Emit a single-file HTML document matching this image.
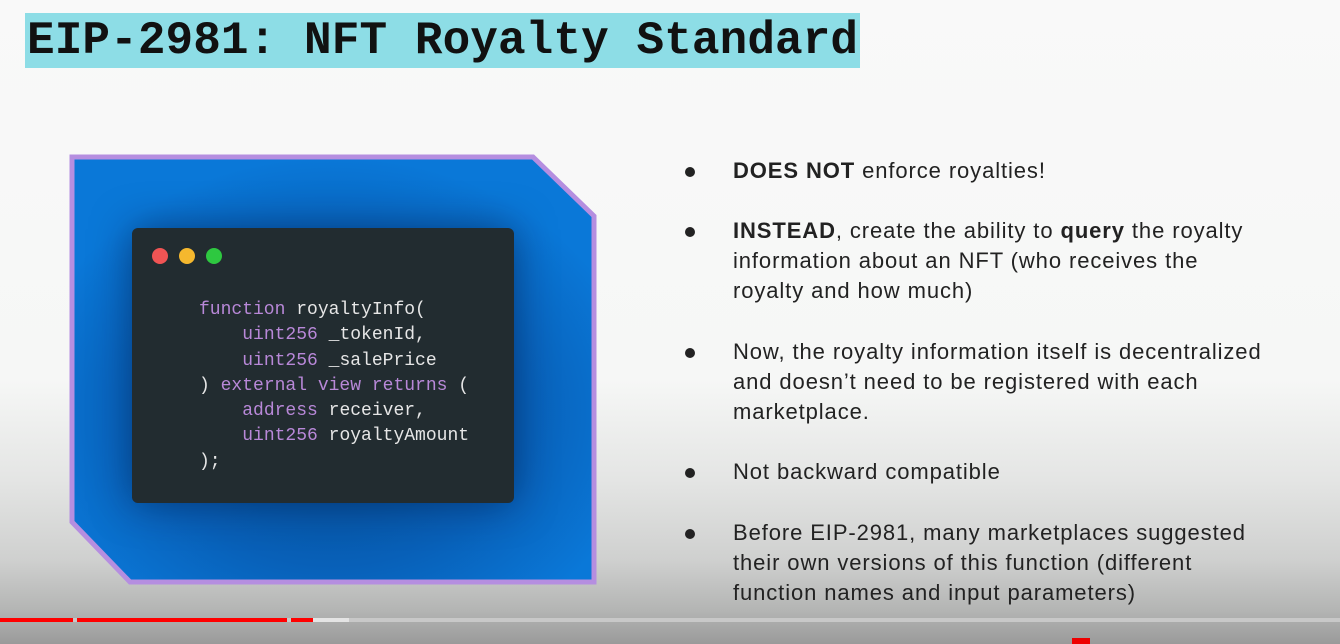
<!DOCTYPE html>
<html><head><meta charset="utf-8"><style>
html,body{margin:0;padding:0}
body{width:1340px;height:644px;position:relative;overflow:hidden;font-family:"Liberation Sans",sans-serif;
background:linear-gradient(to bottom,#f9f9f9 0px,#f6f7f6 380px,#e4e5e4 480px,#cfd0cf 560px,#b4b5b4 610px,#9a9a9a 644px);}
.title{position:absolute;left:25px;top:13px;width:835px;height:55px;background:#8ddde6;}
.title span{position:absolute;left:2px;top:2px;font-family:"Liberation Mono",monospace;font-weight:bold;font-size:46px;line-height:52px;color:#111;letter-spacing:0.1px}
.code{position:absolute;left:132px;top:228px;width:382px;height:275px;background:#222c30;border-radius:6px;box-shadow:0 0 40px rgba(0,20,60,0.5)}
.dot{position:absolute;top:248px;width:16px;height:16px;border-radius:50%}
pre{position:absolute;left:199px;top:298px;margin:0;font-family:"Liberation Mono",monospace;font-size:18px;line-height:25.3px;color:#e6e6e6}
.k{color:#b888d8}
.b{position:absolute;left:733px;font-size:22px;letter-spacing:0.9px;line-height:30px;color:#222;width:600px;white-space:nowrap}
.bu{position:absolute;left:685px;width:10px;height:10px;border-radius:50%;background:#222}
.bar{position:absolute;top:618px;height:4px}
</style></head><body>
<div class="title"><span>EIP-2981: NFT Royalty Standard</span></div>
<svg style="position:absolute;left:0;top:0" width="1340" height="644">
<defs><radialGradient id="g" cx="0.5" cy="0.6" r="0.6"><stop offset="0" stop-color="#054a90"/><stop offset="0.6" stop-color="#0860b8"/><stop offset="1" stop-color="#0a78d8"/></radialGradient></defs>
<polygon points="72,157 533,157 594,216 594,582 130,582 72,522" fill="url(#g)" stroke="#b58ee0" stroke-width="5"/>
</svg>
<div class="code"></div>
<div class="dot" style="left:152px;background:#f05454"></div>
<div class="dot" style="left:179px;background:#f5b82e"></div>
<div class="dot" style="left:206px;background:#2ec840"></div>
<pre><span class="k">function</span> royaltyInfo(
    <span class="k">uint256</span> _tokenId,
    <span class="k">uint256</span> _salePrice
) <span class="k">external view returns</span> (
    <span class="k">address</span> receiver,
    <span class="k">uint256</span> royaltyAmount
);</pre>
<div class="bu" style="top:167px"></div>
<div class="b" style="top:156px"><b>DOES NOT</b> enforce royalties!</div>
<div class="bu" style="top:227px"></div>
<div class="b" style="top:216px"><b>INSTEAD</b>, create the ability to <b>query</b> the royalty<br>information about an NFT (who receives the<br>royalty and how much)</div>
<div class="bu" style="top:348px"></div>
<div class="b" style="top:337px">Now, the royalty information itself is decentralized<br>and doesn’t need to be registered with each<br>marketplace.</div>
<div class="bu" style="top:468px"></div>
<div class="b" style="top:457px">Not backward compatible</div>
<div class="bu" style="top:529px"></div>
<div class="b" style="top:518px">Before EIP-2981, many marketplaces suggested<br>their own versions of this function (different<br>function names and input parameters)</div>
<div class="bar" style="left:0;width:1340px;background:#c8c8c8"></div>
<div class="bar" style="left:313px;width:36px;background:#e4e4e4"></div>
<div class="bar" style="left:0;width:73px;background:#f00"></div>
<div class="bar" style="left:77px;width:210px;background:#f00"></div>
<div class="bar" style="left:291px;width:22px;background:#f00"></div>
<div style="position:absolute;left:1072px;top:638px;width:18px;height:6px;background:#e00"></div>
</body></html>
